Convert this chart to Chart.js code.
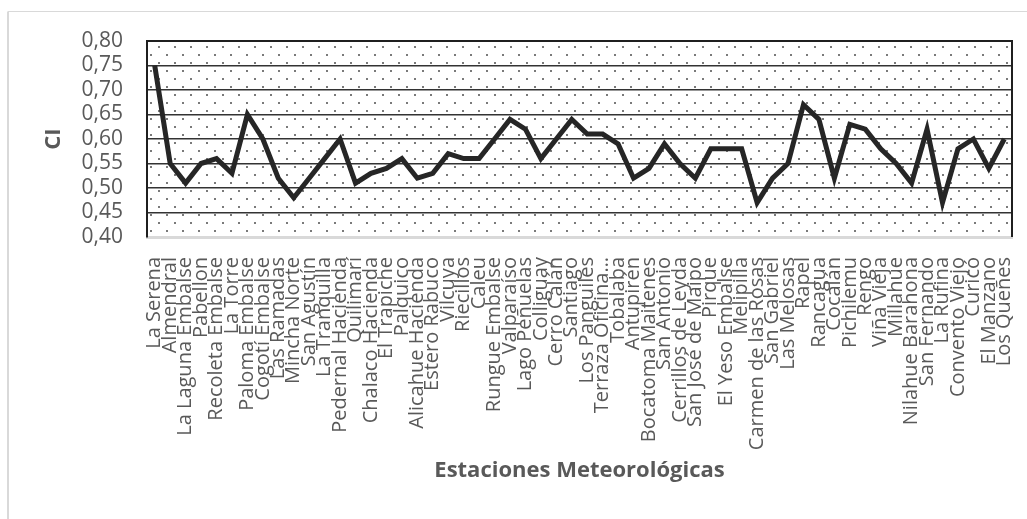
<!DOCTYPE html>
<html>
<head>
<meta charset="utf-8">
<title>Índice CI por estación meteorológica</title>
<script src="https://cdn.jsdelivr.net/npm/chart.js@4/dist/chart.umd.min.js"></script>
<style>
  html, body { margin: 0; padding: 0; background: #ffffff; }
  #wrap { width: 1027px; height: 519px; }
</style>
</head>
<body>
<div id="wrap"><canvas id="chart" width="1027" height="519"></canvas></div>
<script>
// Estaciones (eje X)
const stations = [
  "La Serena", "Almendral", "La Laguna Embalse", "Pabellon", "Recoleta Embalse",
  "La Torre", "Paloma Embalse", "Cogotí Embalse", "Las Ramadas", "Mincha Norte",
  "San Agustín", "La Tranquilla", "Pedernal Hacienda", "Quilimarí", "Chalaco Hacienda",
  "El Trapiche", "Palquico", "Alicahue Hacienda", "Estero Rabuco", "Vilcuya",
  "Riecillos", "Caleu", "Rungue Embalse", "Valparaíso", "Lago Peñuelas",
  "Colliguay", "Cerro Calán", "Santiago", "Los Panguiles", "Terraza Oficina…",
  "Tobalaba", "Antupirén", "Bocatoma Maitenes", "San Antonio", "Cerrillos de Leyda",
  "San José de Maipo", "Pirque", "El Yeso Embalse", "Melipilla", "Carmen de las Rosas",
  "San Gabriel", "Las Melosas", "Rapel", "Rancagua", "Cocalán",
  "Pichilemu", "Rengo", "Viña Vieja", "Millahue", "Nilahue Barahona",
  "San Fernando", "La Rufina", "Convento Viejo", "Curicó", "El Manzano",
  "Los Queñes"
];

// Valores de CI por estación
const ciValues = [
  0.75, 0.55, 0.51, 0.55, 0.56, 0.53, 0.65, 0.60, 0.52, 0.48,
  0.52, 0.56, 0.60, 0.51, 0.53, 0.54, 0.56, 0.52, 0.53, 0.57,
  0.56, 0.56, 0.60, 0.64, 0.62, 0.56, 0.60, 0.64, 0.61, 0.61,
  0.59, 0.52, 0.54, 0.59, 0.55, 0.52, 0.58, 0.58, 0.58, 0.47,
  0.52, 0.55, 0.67, 0.64, 0.52, 0.63, 0.62, 0.58, 0.55, 0.51,
  0.62, 0.47, 0.58, 0.60, 0.54, 0.60
];

// Escala del eje Y
const yMin = 0.40;
const yMax = 0.80;
const yStep = 0.05;

const xTitle = "Estaciones Meteorológicas";
const yTitle = "CI";

const labelGray = "#595959";
const gridDark = "#333333";

// Fondo punteado del área de trazado, marco exterior y bordes del área
const frameAndPattern = {
  id: "frameAndPattern",
  beforeDraw(chart) {
    const { ctx, chartArea: a } = chart;
    ctx.save();
    // marco exterior gris claro
    ctx.strokeStyle = "#d9d9d9";
    ctx.lineWidth = 2;
    ctx.beginPath();
    ctx.moveTo(8, 1100);
    ctx.lineTo(8, 11.5);
    ctx.stroke();
    ctx.lineWidth = 1;
    ctx.beginPath();
    ctx.moveTo(8, 11.5);
    ctx.lineTo(1100, 11.5);
    ctx.stroke();

    // trama de puntos
    const tile = document.createElement("canvas");
    tile.width = 16; tile.height = 16;
    const t = tile.getContext("2d");
    t.fillStyle = "#7a7a7a";
    t.fillRect(11, 5, 2, 2);
    t.fillRect(3, 13, 2, 2);
    const pat = ctx.createPattern(tile, "repeat");
    ctx.translate(a.left, a.top);
    ctx.fillStyle = pat;
    ctx.fillRect(0, 0, a.right - a.left, a.bottom - a.top);
    ctx.restore();
  },
  beforeDatasetsDraw(chart) {
    const { ctx, chartArea: a } = chart;
    ctx.save();
    ctx.strokeStyle = "#1f1f1f";
    ctx.lineWidth = 2;
    ctx.beginPath();
    ctx.moveTo(a.left, a.top);
    ctx.lineTo(a.right, a.top);
    ctx.lineTo(a.right, a.bottom);
    ctx.stroke();
    ctx.restore();
  }
};

new Chart(document.getElementById("chart"), {
  type: "line",
  data: {
    labels: stations,
    datasets: [{
      label: yTitle,
      data: ciValues,
      borderColor: "#262626",
      borderWidth: 5,
      pointRadius: 0,
      pointHoverRadius: 0,
      tension: 0,
      fill: false,
      borderJoinStyle: "miter",
      borderCapStyle: "butt"
    }]
  },
  options: {
    responsive: false,
    animation: false,
    devicePixelRatio: 1,
    layout: { padding: { left: 30, top: 41, right: 15, bottom: 20 } },
    plugins: {
      legend: { display: false },
      tooltip: { enabled: false }
    },
    scales: {
      x: {
        type: "category",
        offset: true,
        grid: { display: false, drawTicks: false },
        border: { display: true, color: "#d9d9d9", width: 3 },
        ticks: {
          autoSkip: false,
          minRotation: 90,
          maxRotation: 90,
          padding: 20,
          color: labelGray,
          font: { family: "'Open Sans', sans-serif", size: 20 }
        },
        title: {
          display: true,
          text: xTitle,
          color: labelGray,
          padding: { top: 0, bottom: 15 },
          font: { family: "'Open Sans', sans-serif", size: 22, weight: "bold" }
        },
        afterFit(scale) {
          scale.height = 262;
          scale.paddingLeft = 0;
          scale.paddingRight = 0;
        }
      },
      y: {
        type: "linear",
        min: yMin,
        max: yMax,
        grid: {
          drawTicks: false,
          lineWidth: 1.5,
          color: (c) => (c.tick && c.tick.value <= yMin + 1e-9) ? "rgba(0,0,0,0)" : gridDark
        },
        border: { display: true, color: "#1f1f1f", width: 2 },
        ticks: {
          stepSize: yStep,
          autoSkip: false,
          padding: 24,
          color: labelGray,
          font: { family: "'Open Sans', sans-serif", size: 21 },
          callback: (v) => Number(v).toFixed(2).replace(".", ",")
        },
        title: {
          display: true,
          text: yTitle,
          color: labelGray,
          padding: { top: 11, bottom: 0 },
          font: { family: "'Open Sans', sans-serif", size: 22, weight: "bold" }
        },
        afterFit(scale) { scale.width = 117; }
      }
    }
  },
  plugins: [frameAndPattern]
});
</script>
</body>
</html>
